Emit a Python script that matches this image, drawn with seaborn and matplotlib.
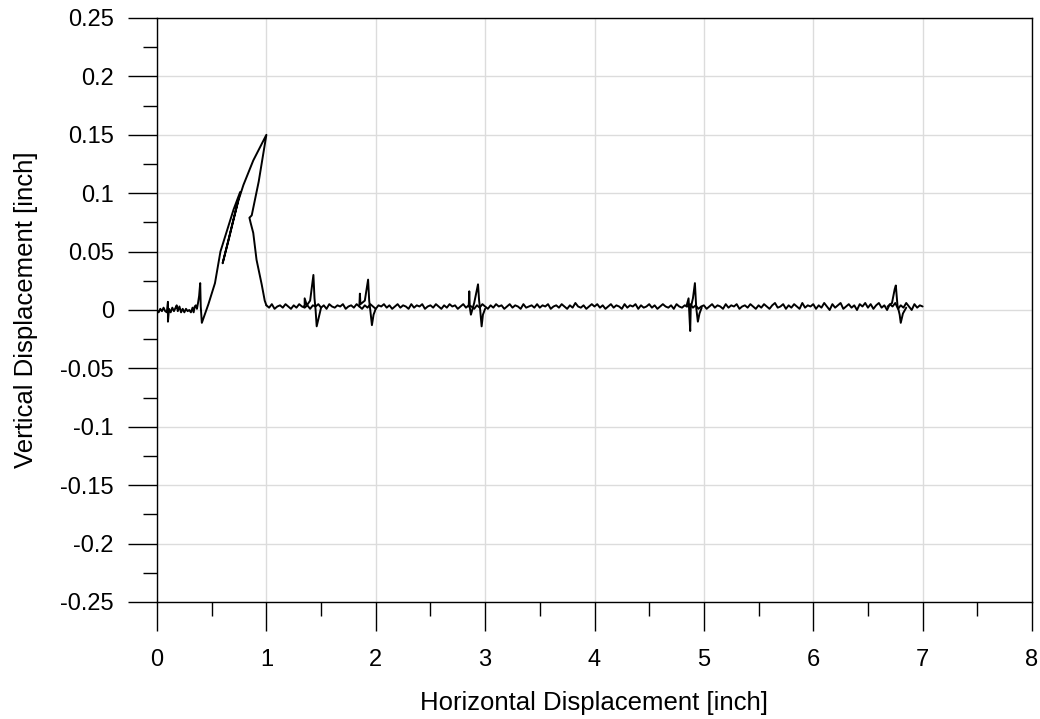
import numpy as np
import pandas as pd
import matplotlib
matplotlib.use("Agg")
import matplotlib.pyplot as plt
import seaborn as sns
from matplotlib.ticker import MultipleLocator, FuncFormatter

# ---- data ----
main_x = [0.00, 0.015, 0.03, 0.045, 0.06, 0.075, 0.09, 0.10, 0.10, 0.11, 0.125, 0.14, 0.155,
          0.17, 0.18, 0.19, 0.205, 0.22, 0.235, 0.25, 0.265, 0.28, 0.295, 0.31, 0.325,
          0.335, 0.345, 0.355, 0.365, 0.375, 0.385, 0.395, 0.40, 0.41,
          0.47, 0.53, 0.58, 0.64, 0.70, 0.76, 0.72, 0.66, 0.60, 0.64, 0.70, 0.745,
          0.79, 0.88, 1.00, 0.93, 0.866, 0.845, 0.855, 0.88, 0.91, 0.957, 0.985, 1.00]
main_y = [0.000, -0.002, 0.001, -0.001, 0.002, -0.001, -0.002, 0.007, -0.010, 0.001, -0.002, 0.002,
          -0.001, 0.002, 0.004, -0.001, 0.003, -0.002, 0.001, -0.002, 0.001, -0.001, 0.000, -0.002,
          0.002, -0.002, 0.003, 0.004, 0.001, 0.006, 0.012, 0.023, 0.003, -0.011,
          0.005, 0.023, 0.050, 0.068, 0.086, 0.101, 0.085, 0.062, 0.040, 0.055, 0.078, 0.094,
          0.107, 0.128, 0.150, 0.110, 0.081, 0.079, 0.075, 0.066, 0.043, 0.022, 0.008, 0.004]

base_y = [
    0.004, 0.002, 0.005, 0.001, 0.003, 0.004, 0.002, 0.005, 0.003, 0.001,
    0.004, 0.002, 0.005, 0.003, 0.002, 0.004, 0.001, 0.004, 0.003, 0.005,
    0.002, 0.004, 0.001, 0.005, 0.003, 0.002, 0.004, 0.003, 0.005, 0.001,
    0.003, 0.004, 0.002, 0.005, 0.003, 0.001, 0.004, 0.002, 0.005, 0.003,
    0.001, 0.004, 0.003, 0.005, 0.002, 0.004, 0.001, 0.003, 0.005, 0.002,
    0.004, 0.003, 0.001, 0.005, 0.002, 0.004, 0.003, 0.005, 0.001, 0.003,
    0.004, 0.002, 0.005, 0.003, 0.001, 0.004, 0.002, 0.005, 0.003, 0.004,
    0.001, 0.003, 0.005, 0.002, 0.004, 0.003, 0.001, 0.004, 0.002, 0.005,
    0.003, 0.001, 0.004, 0.002, 0.005, 0.003, 0.004, 0.001, 0.003, 0.005,
    0.002, 0.004, 0.003, 0.001, 0.005, 0.002, 0.003, 0.004, 0.002, 0.005,
    0.002, 0.004, 0.003, 0.005, 0.001, 0.003, 0.004, 0.002, 0.005, 0.003,
    0.001, 0.004, 0.002, 0.006, 0.003, 0.002, 0.004, 0.001, 0.003, 0.005,
    0.003, 0.005, 0.002, 0.004, 0.001, 0.003, 0.005, 0.002, 0.004, 0.003,
    0.001, 0.005, 0.002, 0.004, 0.003, 0.005, 0.001, 0.004, 0.002, 0.003,
    0.005, 0.002, 0.004, 0.001, 0.003, 0.005, 0.003, 0.002, 0.004, 0.001,
    0.005, 0.003, 0.002, 0.004, 0.003, 0.005, 0.002, 0.004, 0.001, 0.003,
    0.004, 0.001, 0.003, 0.005, 0.002, 0.004, 0.003, 0.001, 0.005, 0.002,
    0.004, 0.003, 0.005, 0.001, 0.003, 0.004, 0.002, 0.005, 0.003, 0.001,
    0.004, 0.002, 0.005, 0.003, 0.001, 0.004, 0.006, 0.002, 0.003, 0.005,
    0.001, 0.004, 0.002, 0.005, 0.003, 0.001, 0.006, 0.002, 0.004, 0.003,
    0.005, 0.001, 0.004, 0.002, 0.006, 0.003, 0.000, 0.005, 0.002, 0.004,
    0.006, 0.001, 0.003, 0.005, 0.002, 0.004, 0.000, 0.005, 0.003, 0.006,
    0.002, 0.005, 0.001, 0.004, 0.006, 0.002, 0.004, 0.000, 0.005, 0.003,
    0.006, 0.001, 0.004, 0.002, 0.006, 0.003, 0.000, 0.005, 0.002, 0.004,
    0.003]
base_x = np.linspace(1.0, 7.0, len(base_y))

spike1_x = [1.34, 1.35, 1.35, 1.37, 1.40, 1.43, 1.44, 1.45, 1.46, 1.48, 1.50]
spike1_y = [0.003, 0.003, 0.010, 0.004, 0.008, 0.030, 0.010, 0.000, -0.014, -0.006, 0.002]
spike2_x = [1.85, 1.855, 1.86, 1.90, 1.93, 1.94, 1.95, 1.965, 1.98, 2.00]
spike2_y = [0.003, 0.014, 0.005, 0.008, 0.026, 0.008, 0.000, -0.013, -0.004, 0.001]
spike3_x = [2.85, 2.855, 2.86, 2.87, 2.90, 2.935, 2.945, 2.955, 2.968, 2.98, 3.00]
spike3_y = [0.003, 0.016, 0.002, -0.004, 0.006, 0.022, 0.008, 0.000, -0.014, -0.004, 0.001]
spike4_x = [4.84, 4.86, 4.875, 4.88, 4.90, 4.918, 4.93, 4.945, 4.96, 4.98]
spike4_y = [0.003, 0.010, -0.018, 0.002, 0.010, 0.023, 0.002, -0.010, -0.003, 0.002]
spike5_x = [6.68, 6.72, 6.745, 6.755, 6.77, 6.79, 6.80, 6.82, 6.85]
spike5_y = [0.003, 0.006, 0.018, 0.021, 0.004, -0.004, -0.011, -0.003, 0.002]

x_label = "Horizontal Displacement [inch]"
y_label = "Vertical Displacement [inch]"

# ---- build a long table of traces ----
traces = [("main", main_x, main_y), ("base", base_x, base_y),
          ("s1", spike1_x, spike1_y), ("s2", spike2_x, spike2_y),
          ("s3", spike3_x, spike3_y), ("s4", spike4_x, spike4_y),
          ("s5", spike5_x, spike5_y)]
frames = []
for name, xs, ys in traces:
    frames.append(pd.DataFrame({"x": list(xs), "y": list(ys), "trace": name}))
df = pd.concat(frames, ignore_index=True)

sns.set_theme(style="white")
plt.rcParams["font.family"] = ["Liberation Sans", "DejaVu Sans"]
plt.rcParams["axes.unicode_minus"] = False

fig = plt.figure(figsize=(10.4, 7.19), dpi=100)
ax = fig.add_axes([157 / 1040, (719 - 602) / 719, (1032 - 157) / 1040, (602 - 18) / 719])

for name, sub in df.groupby("trace", sort=False):
    sns.lineplot(data=sub, x="x", y="y", sort=False, estimator=None,
                 color="black", linewidth=1.4, ax=ax, legend=False)

ax.set_xlim(0, 8)
ax.set_ylim(-0.25, 0.25)
ax.xaxis.set_major_locator(MultipleLocator(1))
ax.xaxis.set_minor_locator(MultipleLocator(0.5))
ax.yaxis.set_major_locator(MultipleLocator(0.05))
ax.yaxis.set_minor_locator(MultipleLocator(0.025))
ax.yaxis.set_major_formatter(FuncFormatter(lambda v, p: "0" if abs(v) < 1e-9 else f"{v:g}"))
ax.xaxis.set_major_formatter(FuncFormatter(lambda v, p: f"{v:g}"))

ax.grid(True, which="major", color="#dcdcdc", linewidth=1.0)
ax.set_axisbelow(True)
for s in ax.spines.values():
    s.set_visible(True)
    s.set_color("black")
    s.set_linewidth(1.0)

ax.tick_params(axis="both", which="major", direction="out", length=21, width=1.0,
               color="black", labelsize=17, labelcolor="black",
               left=True, bottom=True)
ax.tick_params(axis="x", which="major", pad=13)
ax.tick_params(axis="y", which="major", pad=10)
ax.tick_params(axis="both", which="minor", direction="out", length=10, width=1.0,
               color="black", left=True, bottom=True)

ax.set_xlabel(x_label, fontsize=18.5, labelpad=14, color="black")
ax.set_ylabel(y_label, fontsize=18.5, labelpad=16, color="black")

fig.savefig("out.png", dpi=100)
